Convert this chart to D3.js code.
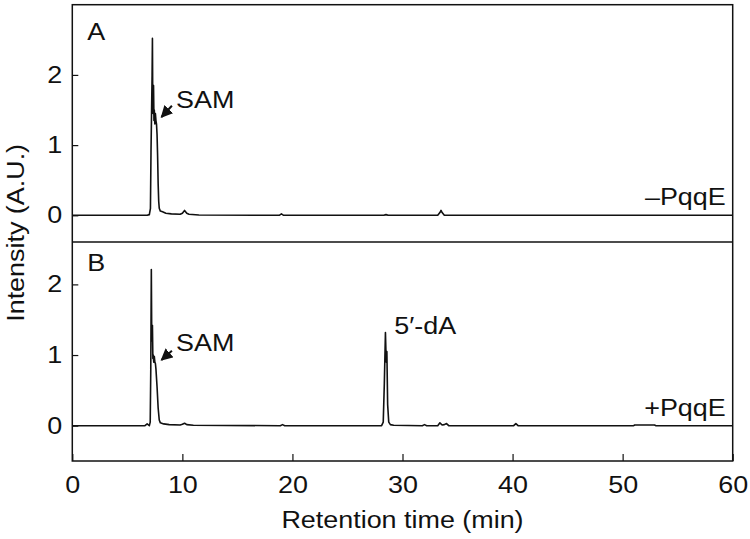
<!DOCTYPE html>
<html><head><meta charset="utf-8">
<script src="https://cdn.jsdelivr.net/npm/d3@7"></script>
<style>
body{margin:0;background:#fff}svg{display:block}
text{font-family:"Liberation Sans",Arial,sans-serif;fill:#111;transform-box:fill-box;transform:scaleX(1.17)}
text.mid{transform-origin:center}
text.end{transform-origin:right}
text.start{transform-origin:left}
</style>
</head><body><svg id="c" width="750" height="539"></svg>
<script>
// ---- data ----
const xTicks = [0, 10, 20, 30, 40, 50, 60];
const yTicks = [0, 1, 2];
const panelLabels = ["A", "B"];
const conditionLabels = ["\u2013PqqE", "+PqqE"];

const timeA = [0, 6.8, 7.0, 7.1, 7.15, 7.2, 7.25, 7.28, 7.31, 7.34, 7.38, 7.42, 7.45, 7.5, 7.55, 7.6, 7.65, 7.7, 7.75, 7.8, 7.85, 7.9, 8.0, 8.2, 8.5, 9.0, 9.8, 10.0, 10.2, 10.4, 10.6, 11.5, 18.8, 19.0, 19.2, 28.3, 28.5, 28.7, 33.2, 33.4, 33.5, 33.6, 33.8, 60];
const intensityA = [0, 0, 0.01, 0.1, 0.9, 1.45, 2.0, 2.52, 1.6, 1.45, 1.85, 1.35, 1.5, 1.3, 1.45, 1.35, 1.3, 1.15, 0.85, 0.45, 0.2, 0.1, 0.06, 0.05, 0.03, 0.02, 0.015, 0.03, 0.07, 0.03, 0.015, 0.005, 0, 0.02, 0, 0, 0.01, 0, 0, 0.04, 0.07, 0.04, 0, 0];

const timeB = [0, 6.6, 6.8, 7.0, 7.08, 7.13, 7.18, 7.22, 7.28, 7.32, 7.36, 7.4, 7.45, 7.5, 7.55, 7.6, 7.7, 7.8, 7.9, 8.0, 8.3, 8.8, 9.8, 10.0, 10.2, 10.4, 11.0, 18.9, 19.1, 19.3, 28.1, 28.25, 28.35, 28.45, 28.52, 28.58, 28.65, 28.75, 28.9, 29.2, 31.8, 32.0, 32.2, 33.2, 33.4, 33.6, 33.8, 34.0, 34.2, 40.1, 40.3, 40.5, 51.0, 51.1, 52.9, 53.0, 60];
const intensityB = [0, 0, 0.025, 0, 0.05, 0.8, 2.21, 1.2, 1.42, 0.95, 1.0, 0.9, 0.98, 0.9, 0.88, 0.8, 0.55, 0.25, 0.08, 0.04, 0.025, 0.015, 0.01, 0.02, 0.035, 0.015, 0.005, 0, 0.015, 0, 0, 0.05, 0.6, 1.32, 0.9, 1.05, 0.3, 0.05, 0.015, 0.005, 0, 0.015, 0, 0, 0.04, 0.01, 0.015, 0.03, 0, 0, 0.03, 0, 0, 0.01, 0.01, 0, 0];

const samLabel = "SAM";
const dALabel = "5\u2032-dA";

// ---- layout ----
const svg = d3.select("#c");
const L = 72.3, R = 732.7, T = 4.7, MID = 242, B = 461;
const x = d3.scaleLinear().domain([0, 60]).range([L, R]);
const yA = d3.scaleLinear().domain([-0.38, 3]).range([MID, T]);
const yB = d3.scaleLinear().domain([-0.5, 2.6]).range([B, MID]);
const fs = 23;

function panel(ys, times, vals, idx, labOff) {
  const g = svg.append("g");
  const ax = g.append("g").attr("transform", `translate(${L},0)`)
    .call(d3.axisLeft(ys).tickValues(yTicks).tickSize(-6).tickPadding(10).tickFormat(d3.format("d")));
  ax.select(".domain").remove();
  ax.selectAll("line").attr("stroke", "#111").attr("stroke-width", 1.2);
  ax.selectAll("text").attr("class", "end").style("font-size", fs + "px").attr("fill", "#111");
  const pts = times.map((t, i) => [t, vals[i]]);
  g.append("path").datum(pts)
    .attr("d", d3.line().x(d => x(d[0])).y(d => ys(d[1])))
    .attr("fill", "none").attr("stroke", "#111").attr("stroke-width", 1.6).attr("stroke-linejoin", "round");
  const r = ys.range();
  g.append("text").attr("class", "start").attr("x", L + 15).attr("y", r[1] + labOff).style("font-size", fs + "px").text(panelLabels[idx]);
  g.append("text").attr("class", "end").attr("x", R - 7).attr("y", ys(0) - 10).attr("text-anchor", "end").style("font-size", fs + "px").text(conditionLabels[idx]);
}
panel(yA, timeA, intensityA, 0, 35);
panel(yB, timeB, intensityB, 1, 29);

// frame
svg.append("rect").attr("x", L).attr("y", T).attr("width", R - L).attr("height", B - T)
  .attr("fill", "none").attr("stroke", "#111").attr("stroke-width", 1.5);
svg.append("line").attr("x1", L).attr("x2", R).attr("y1", MID).attr("y2", MID)
  .attr("stroke", "#111").attr("stroke-width", 1.5);

// x axis
const xa = svg.append("g").attr("transform", `translate(0,${B})`)
  .call(d3.axisBottom(x).tickValues(xTicks).tickSize(-7).tickPadding(16).tickFormat(d3.format("d")));
xa.select(".domain").remove();
xa.selectAll("line").attr("stroke", "#111").attr("stroke-width", 1.2);
xa.selectAll("text").attr("class", "mid").style("font-size", fs + "px").attr("fill", "#111");

svg.append("text").attr("class", "mid").attr("x", (L + R) / 2).attr("y", 528).attr("text-anchor", "middle").style("font-size", fs + "px").text("Retention time (min)");
svg.append("g").attr("transform", `translate(24,${(T + B) / 2}) rotate(-90)`)
  .append("text").attr("class", "mid").attr("text-anchor", "middle").style("font-size", fs + "px").text("Intensity (A.U.)");

// annotations
const defs = svg.append("defs");
defs.append("marker").attr("id", "ah").attr("viewBox", "0 0 10 10").attr("refX", 9).attr("refY", 5)
  .attr("markerWidth", 6).attr("markerHeight", 6).attr("orient", "auto")
  .append("path").attr("d", "M0,0 L10,5 L0,10 z").attr("fill", "#111");
function sam(ys, t0, v0, t1, v1, tx, ty) {
  svg.append("line").attr("x1", x(t0)).attr("y1", ys(v0)).attr("x2", x(t1)).attr("y2", ys(v1))
    .attr("stroke", "#111").attr("stroke-width", 2).attr("marker-end", "url(#ah)");
  svg.append("text").attr("class", "start").attr("x", x(tx)).attr("y", ys(ty)).style("font-size", fs + "px").text(samLabel);
}
sam(yA, 9.05, 1.56, 8.1, 1.4, 9.43, 1.53);
sam(yB, 9.05, 1.06, 8.1, 0.93, 9.43, 1.05);
svg.append("text").attr("class", "start").attr("x", x(29.25)).attr("y", yB(1.3)).style("font-size", fs + "px").text(dALabel);
</script></body></html>
